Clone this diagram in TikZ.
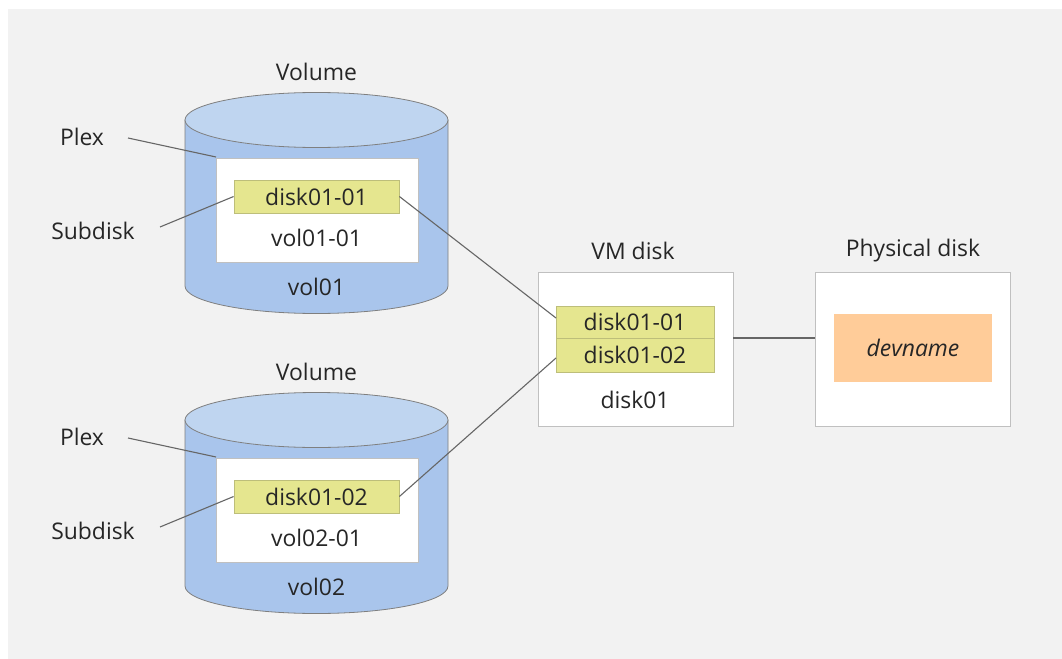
\documentclass[tikz,border=0pt]{standalone}
\usepackage{fontspec}
\setmainfont{Open Sans}
\definecolor{panel}{HTML}{F2F2F2}
\definecolor{cylbody}{HTML}{A9C5EC}
\definecolor{cyltop}{HTML}{BFD5F0}
\definecolor{edge}{HTML}{7F7F7F}
\definecolor{boxedge}{HTML}{C0C0C0}
\definecolor{subd}{HTML}{E5E68F}
\definecolor{subdedge}{HTML}{BDBE7A}
\definecolor{orng}{HTML}{FFCC99}
\definecolor{txt}{HTML}{262626}
\tikzset{
  lbl/.style={font=\fontsize{23}{27}\selectfont, text=txt, inner sep=0pt},
  conn/.style={draw=edge!80!black, line width=1.1bp},
  plexbox/.style={draw=boxedge, fill=white, line width=0.8bp},
  subbox/.style={draw=subdedge, fill=subd, line width=0.8bp},
}
\begin{document}
\begin{tikzpicture}[x=1bp,y=-1bp]
\useasboundingbox (0,0) rectangle (1062,659);
\fill[white] (0,0) rectangle (1062,659);
\fill[panel] (8,9) rectangle (1062,659);

% cylinders
\foreach \dy/\n in {0/1,300/2}{
  \begin{scope}[yshift=-\dy bp]
    \filldraw[fill=cylbody, draw=edge, line width=0.8bp]
      (185,120) -- (185,286) arc[start angle=180, end angle=0, x radius=131.5, y radius=27.5]
      -- (448,120) -- cycle;
    \filldraw[fill=cyltop, draw=edge, line width=0.8bp]
      (316.5,120) ellipse[x radius=131.5, y radius=27.5];
  \end{scope}
}

% top volume
\node[lbl] (vol1title) at (316.5,72) {Volume};
\node[plexbox, minimum width=202bp, minimum height=104bp, inner sep=0pt] (plex1) at (317,210) {};
\node[subbox, minimum width=165bp, minimum height=33bp, inner sep=0pt] (sd1) at (316.5,196.5) {};
\node[lbl] at (sd1) {disk01-01};
\node[lbl] (plex1name) at (316.5,238) {vol01-01};
\node[lbl] (vol1name) at (316.5,287) {vol01};
\node[lbl] (plexlbl1) at (82,137) {Plex};
\node[lbl] (sublbl1) at (93,231) {Subdisk};
\coordinate (pl1a) at (128,138);
\coordinate (pl1b) at (216,157);
\coordinate (sl1a) at (160,227);
\draw[conn] (pl1a) -- (pl1b);
\draw[conn] (sl1a) -- (sd1.west);

% bottom volume
\node[lbl] (vol2title) at (316.5,372) {Volume};
\node[plexbox, minimum width=202bp, minimum height=104bp, inner sep=0pt] (plex2) at (317,510) {};
\node[subbox, minimum width=165bp, minimum height=33bp, inner sep=0pt] (sd2) at (316.5,496.5) {};
\node[lbl] at (sd2) {disk01-02};
\node[lbl] (plex2name) at (316.5,538) {vol02-01};
\node[lbl] (vol2name) at (316.5,587) {vol02};
\node[lbl] (plexlbl2) at (82,437) {Plex};
\node[lbl] (sublbl2) at (93,531) {Subdisk};
\coordinate (pl2a) at (128,438);
\coordinate (pl2b) at (216,457);
\coordinate (sl2a) at (160,527);
\draw[conn] (pl2a) -- (pl2b);
\draw[conn] (sl2a) -- (sd2.west);

% VM disk
\node[lbl] (vmtitle) at (633,251) {VM disk};
\node[plexbox, minimum width=195bp, minimum height=154bp, inner sep=0pt] (vm) at (635.5,349) {};
\node[subbox, minimum width=158bp, minimum height=32bp, inner sep=0pt] (vm1) at (635,322) {};
\node[subbox, minimum width=158bp, minimum height=34bp, inner sep=0pt] (vm2) at (635,355) {};
\node[lbl] at (vm1) {disk01-01};
\node[lbl] at (vm2) {disk01-02};
\node[lbl] (vmname) at (635,400) {disk01};

% Physical disk
\node[lbl] (phtitle) at (913,251) {Physical disk};
\node[plexbox, minimum width=195bp, minimum height=154bp, inner sep=0pt] (ph) at (912.5,349) {};
\node[fill=orng, minimum width=158bp, minimum height=68bp, inner sep=0pt] (dev) at (913,348) {};
\node[lbl, font=\fontsize{23}{27}\selectfont\itshape] at (dev) {devname};

% connectors
\coordinate (vm1in) at (556,318);
\coordinate (vm2in) at (556,358);
\draw[conn] (sd1.east) -- (vm1in);
\draw[conn] (sd2.east) -- (vm2in);
\draw[conn] (vm.east |- 0,338) -- (ph.west |- 0,338);
\end{tikzpicture}
\end{document}
